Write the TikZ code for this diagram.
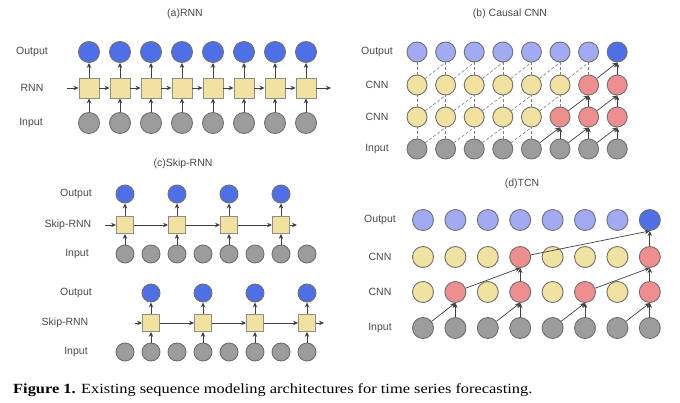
\documentclass[tikz,border=0pt]{standalone}
\usepackage{fontspec}
\setmainfont{Liberation Serif}
\newfontfamily\lblfont{Liberation Sans}
\usetikzlibrary{arrows.meta}
\definecolor{cblue}{HTML}{4F6FE6}
\definecolor{clblue}{HTML}{A2AAF2}
\definecolor{cyel}{HTML}{F1E2A2}
\definecolor{cred}{HTML}{EF8E8E}
\definecolor{cgray}{HTML}{9C9C9C}
\definecolor{cedge}{HTML}{707070}
\definecolor{ctext}{HTML}{4A4A4A}
\definecolor{carr}{HTML}{404040}
\tikzset{
  circ/.style={circle, draw=cedge, line width=0.9pt, inner sep=0pt},
  sa/.style={minimum size=21pt},
  sb/.style={minimum size=20pt},
  sc/.style={minimum size=18pt},
  sd/.style={minimum size=21pt},
  boxa/.style={rectangle, draw=cedge!80, line width=0.9pt, fill=cyel, inner sep=0pt, minimum size=20pt},
  boxc/.style={rectangle, draw=cedge!80, line width=0.9pt, fill=cyel, inner sep=0pt, minimum size=17pt},
  arr/.style={draw=carr, line width=0.7pt, -{Stealth[length=5pt,width=4.5pt]}},
  dsh/.style={draw=cedge!90, line width=0.6pt, dash pattern=on 3pt off 2pt},
  lbl/.style={text=ctext, font=\lblfont\fontsize{10.5}{12}\selectfont, inner sep=0pt},
}
\begin{document}
\begin{tikzpicture}[x=1pt,y=-1pt]
\useasboundingbox (0,0) rectangle (680,403);
\fill[white] (0,0) rectangle (680,403);

% ---------------- (a) RNN
\node[lbl] (ta) at (185,14) {(a)RNN};
\node[lbl] (la1) at (32,52) {Output};
\node[lbl] (la2) at (32,88) {RNN};
\node[lbl] (la3) at (31,123) {Input};
\foreach \i in {0,...,7}{
  \pgfmathsetmacro\x{89+31*\i}
  \node[circ,sa,fill=cblue] (ao\i) at (\x,52) {};
  \node[boxa] (ab\i) at (\x,88) {};
  \node[circ,sa,fill=cgray] (ai\i) at (\x,123) {};
  \draw[arr] (ai\i) -- (ab\i);
  \draw[arr] (ab\i) -- (ao\i);
}
\foreach \i [evaluate=\i as \j using int(\i+1)] in {0,...,6}
  \draw[arr] (ab\i) -- (ab\j);
\coordinate (aL) at (67,88);
\coordinate (aR) at (331,88);
\draw[arr] (aL) -- (ab0);
\draw[arr] (ab7) -- (aR);

% ---------------- (b) Causal CNN
\node[lbl] (tb) at (510,14) {(b) Causal CNN};
\node[lbl] (lb1) at (377,52) {Output};
\node[lbl] (lb2) at (377,85) {CNN};
\node[lbl] (lb3) at (377,117) {CNN};
\node[lbl] (lb4) at (377,149) {Input};
\foreach \i in {0,...,7}{
  \pgfmathsetmacro\x{417+28.6*\i}
  \pgfmathsetmacro\fo{\i<7 ? "clblue" : "cblue"}
  \pgfmathsetmacro\ft{\i<6 ? "cyel" : "cred"}
  \pgfmathsetmacro\fs{\i<5 ? "cyel" : "cred"}
  \node[circ,sb,fill=\fo] (bo\i) at (\x,52) {};
  \node[circ,sb,fill=\ft] (bt\i) at (\x,85) {};
  \node[circ,sb,fill=\fs] (bs\i) at (\x,117) {};
  \node[circ,sb,fill=cgray] (bi\i) at (\x,149) {};
}
\foreach \i in {0,...,6} \draw[dsh] (bt\i) -- (bo\i);
\foreach \i in {0,...,5} \draw[dsh] (bs\i) -- (bt\i);
\foreach \i in {0,...,4} \draw[dsh] (bi\i) -- (bs\i);
\foreach \i [evaluate=\i as \j using int(\i+1)] in {0,...,5} \draw[dsh] (bt\i) -- (bo\j.south);
\foreach \i [evaluate=\i as \j using int(\i+1)] in {0,...,4} \draw[dsh] (bs\i) -- (bt\j.south);
\foreach \i [evaluate=\i as \j using int(\i+1)] in {0,...,3} \draw[dsh] (bi\i) -- (bs\j.south);
\draw[arr] (bt6) -- (bo7.south);
\draw[arr] (bt7) -- (bo7);
\draw[arr] (bs5) -- (bt6.south);
\draw[arr] (bs6) -- (bt6);
\draw[arr] (bs6) -- (bt7.south);
\draw[arr] (bs7) -- (bt7);
\draw[arr] (bi4) -- (bs5.south);
\draw[arr] (bi5) -- (bs5);
\draw[arr] (bi5) -- (bs6.south);
\draw[arr] (bi6) -- (bs6);
\draw[arr] (bi6) -- (bs7.south);
\draw[arr] (bi7) -- (bs7);

% ---------------- (c) Skip-RNN
\node[lbl] (tc) at (183,164) {(c)Skip-RNN};
\node[lbl] (lc1) at (76,194) {Output};
\node[lbl] (lc2) at (68,225) {Skip-RNN};
\node[lbl] (lc3) at (77,254) {Input};
\node[lbl] (lc4) at (76,293) {Output};
\node[lbl] (lc5) at (65,323) {Skip-RNN};
\node[lbl] (lc6) at (76,352) {Input};
\foreach \i in {0,...,7}{
  \pgfmathsetmacro\x{125+26*\i}
  \node[circ,sc,fill=cgray] (ci\i) at (\x,254) {};
  \node[circ,sc,fill=cgray] (di\i) at (\x,352) {};
}
\foreach \k in {0,...,3}{
  \pgfmathsetmacro\x{125+52*\k}
  \pgfmathsetmacro\y{151+52*\k}
  \pgfmathtruncatemacro\e{2*\k}
  \pgfmathtruncatemacro\o{2*\k+1}
  \node[boxc] (cb\k) at (\x,225) {};
  \node[circ,sc,fill=cblue] (co\k) at (\x,194) {};
  \draw[arr] (ci\e) -- (cb\k);
  \draw[arr] (cb\k) -- (co\k);
  \node[boxc] (db\k) at (\y,323) {};
  \node[circ,sc,fill=cblue] (do\k) at (\y,293) {};
  \draw[arr] (di\o) -- (db\k);
  \draw[arr] (db\k) -- (do\k);
}
\foreach \i [evaluate=\i as \j using int(\i+1)] in {0,...,2}{
  \draw[arr] (cb\i) -- (cb\j);
  \draw[arr] (db\i) -- (db\j);
}
\coordinate (cL) at (105,225);
\coordinate (cR) at (297,225);
\coordinate (dL) at (135,323);
\coordinate (dR) at (324,323);
\draw[arr] (cL) -- (cb0);
\draw[arr] (cb3) -- (cR);
\draw[arr] (dL) -- (db0);
\draw[arr] (db3) -- (dR);

% ---------------- (d) TCN
\node[lbl] (td) at (522,184) {(d)TCN};
\node[lbl] (ld1) at (380,220) {Output};
\node[lbl] (ld2) at (380,257) {CNN};
\node[lbl] (ld3) at (380,292) {CNN};
\node[lbl] (ld4) at (380,328) {Input};
\foreach \i in {0,...,7}{
  \pgfmathsetmacro\x{423+32.4*\i}
  \pgfmathsetmacro\fo{\i<7 ? "clblue" : "cblue"}
  \pgfmathsetmacro\ft{(\i==3 || \i==7) ? "cred" : "cyel"}
  \pgfmathsetmacro\fs{mod(\i,2)==1 ? "cred" : "cyel"}
  \node[circ,sd,fill=\fo] (eo\i) at (\x,220) {};
  \node[circ,sd,fill=\ft] (et\i) at (\x,257) {};
  \node[circ,sd,fill=\fs] (es\i) at (\x,292) {};
  \node[circ,sd,fill=cgray] (ei\i) at (\x,328) {};
}
\foreach \e/\o in {0/1,2/3,4/5,6/7}{
  \draw[arr] (ei\e) -- (es\o.south);
  \draw[arr] (ei\o) -- (es\o);
}
\draw[arr] (es1) -- (et3.south);
\draw[arr] (es3) -- (et3);
\draw[arr] (es5) -- (et7.south);
\draw[arr] (es7) -- (et7);
\draw[arr] (et3) -- (eo7.south);
\draw[arr] (et7) -- (eo7);

% ---------------- caption
\node[anchor=west, inner sep=0pt, font=\fontsize{14}{16}\selectfont] (cap) at (13,390)
  {\scalebox{1.17}[1]{\textbf{Figure 1.} Existing sequence modeling architectures for time series forecasting.}};
\end{tikzpicture}
\end{document}
